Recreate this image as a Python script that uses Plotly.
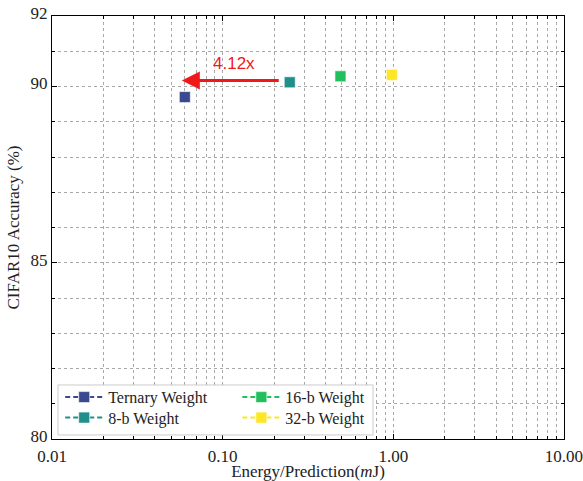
import math
import plotly.graph_objects as go

# Energy per prediction (mJ) and CIFAR10 accuracy (%) for each weight precision
labels = ["Ternary Weight", "8-b Weight", "16-b Weight", "32-b Weight"]
energy_mj = [0.06, 0.2472, 0.49, 0.98]
accuracy = [89.7, 90.12, 90.29, 90.33]
colors = ["#3b4a8e", "#1f8f8c", "#22c05c", "#fde725"]
legend_ids = ["legend", "legend2", "legend3", "legend4"]

speedup_text = "4.12x"

x_ticks = [0.01, 0.1, 1, 10]
x_tick_text = ["0.01", "0.10", "1.00", "10.00"]
y_ticks = [80, 85, 90, 92]

serif = "Liberation Serif"
grid_color = "#a8a8a8"

fig = go.Figure()
for name, e, a, c, lg in zip(labels, energy_mj, accuracy, colors, legend_ids):
    fig.add_trace(go.Scatter(
        x=[e], y=[a], name=name, mode="lines+markers",
        line=dict(color=c, dash="5px,3px", width=2),
        marker=dict(symbol="square", size=11, color=c,
                    line=dict(color="rgba(255,255,255,0.6)", width=1)),
        legend=lg,
    ))

minor_x = [m * 10 ** d for d in range(-2, 1) for m in range(2, 10)]

axis_common = dict(
    showline=True, linecolor="black", linewidth=1.3, mirror="allticks",
    ticks="inside", ticklen=5, tickcolor="black", tickwidth=1,
    showgrid=True, gridcolor=grid_color, griddash="dot", gridwidth=1,
    zeroline=False, automargin=False, ticklabeloverflow="allow",
    tickfont=dict(family=serif, size=17, color="#222222"),
)

fig.update_xaxes(
    type="log", range=[-2.0002, 1.0002], tickmode="array",
    tickvals=x_ticks, ticktext=x_tick_text, ticklabelstandoff=1,
    minor=dict(tickmode="array", tickvals=minor_x, ticks="inside", ticklen=3,
               tickcolor="black", showgrid=True, gridcolor=grid_color,
               griddash="dot", gridwidth=1),
    title=dict(text="Energy/Prediction(<i>m</i>J)", standoff=4,
               font=dict(family=serif, size=17, color="#222222")),
    **axis_common,
)
fig.update_yaxes(
    range=[80, 92], tickmode="array", tickvals=y_ticks, ticklabelshift=-3,
    minor=dict(dtick=1, ticks="inside", ticklen=3, tickcolor="black",
               showgrid=True, gridcolor=grid_color, griddash="dot", gridwidth=1),
    title=dict(text="CIFAR10 Accuracy (%)", standoff=6,
               font=dict(family=serif, size=17, color="#222222")),
    **axis_common,
)

# Arrow from the 8-b point back toward the ternary point, labelled with the ratio
arrow_y = 90.17
fig.add_annotation(
    x=math.log10(energy_mj[0] * 0.96), y=arrow_y,
    ax=math.log10(energy_mj[1] * 0.88), ay=arrow_y,
    xref="x", yref="y", axref="x", ayref="y",
    showarrow=True, arrowhead=2, arrowsize=1.2, arrowwidth=3,
    arrowcolor="#f01818", text="",
)
fig.add_annotation(
    x=math.log10(math.sqrt(energy_mj[0] * energy_mj[1]) * 0.96), y=90.66,
    xref="x", yref="y", text=speedup_text, showarrow=False,
    font=dict(family="Liberation Sans", size=17, color="#f01818"),
)

# Legend frame shared by the legend entries
fig.add_shape(
    type="rect", xref="paper", yref="paper",
    x0=0.0117, x1=0.627, y0=0.0095, y1=0.1277,
    fillcolor="white", line=dict(color="#cccccc", width=1), layer="above",
)

legend_common = dict(
    orientation="v", xanchor="left", yanchor="top",
    bgcolor="rgba(0,0,0,0)", borderwidth=0,
    font=dict(family=serif, size=16, color="#222222"),
    tracegroupgap=0, itemwidth=38,
)

# 2x2 grid of legend entries: column x positions and row y positions (paper)
col_x = [0.016, 0.362]
row_y = [0.139, 0.0905]

fig.update_layout(
    width=583, height=481,
    margin=dict(l=52, r=19, t=16, b=42),
    paper_bgcolor="white", plot_bgcolor="white",
    showlegend=True,
    legend=dict(x=col_x[0], y=row_y[0], **legend_common),
    legend2=dict(x=col_x[0], y=row_y[1], **legend_common),
    legend3=dict(x=col_x[1], y=row_y[0], **legend_common),
    legend4=dict(x=col_x[1], y=row_y[1], **legend_common),
)

fig.write_html("out.html")
